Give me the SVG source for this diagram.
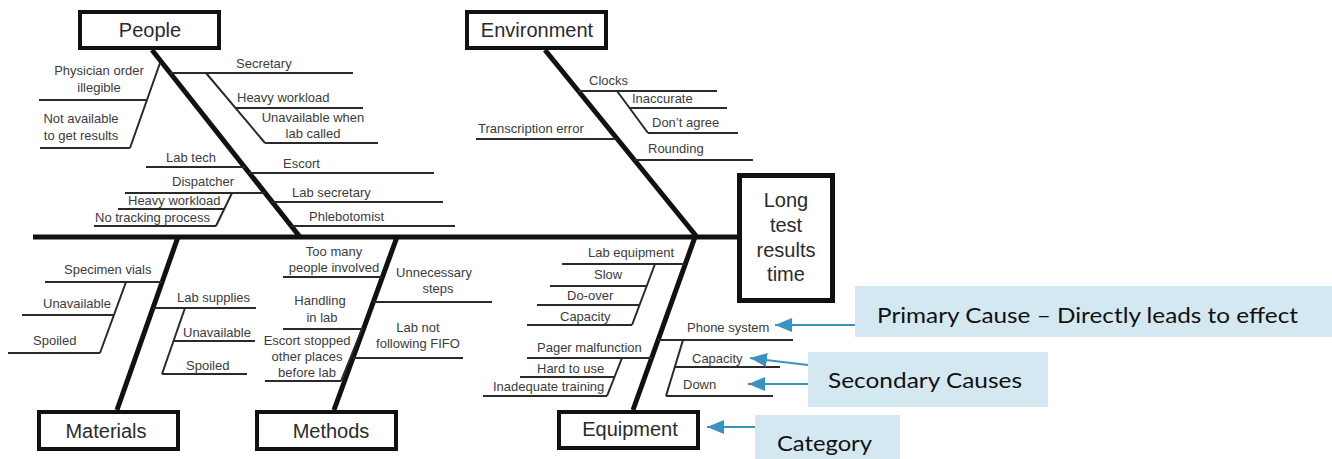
<svg xmlns="http://www.w3.org/2000/svg" width="1332" height="459" viewBox="0 0 1332 459">
  <defs>
    <style>
      .bone { stroke: #111; stroke-width: 5; fill: none; stroke-linecap: butt; }
      .rib { stroke: #2a2a2a; stroke-width: 2; fill: none; }
      .box { fill: #fff; stroke: #111; stroke-width: 4; }
      .effect { fill: #fff; stroke: #111; stroke-width: 5; }
      .title { font-family: "Liberation Sans", Arial, sans-serif; font-size: 20px; fill: #2b2b2b; text-anchor: middle; }
      .cause { font-family: "Liberation Sans", Arial, sans-serif; font-size: 13px; fill: #3c3c3c; }
      .mid { text-anchor: middle; }
      .note { fill: #d4e8f1; }
      .note-text { font-family: Lato, "Open Sans", sans-serif; font-size: 22px; fill: #111; }
      .pointer { stroke: #3a93be; stroke-width: 2; fill: none; marker-end: url(#tip); }
    </style>
    <marker id="tip" viewBox="0 0 17 14" refX="17" refY="7" markerWidth="17" markerHeight="14" markerUnits="userSpaceOnUse" orient="auto">
      <path d="M0,0 L17,7 L0,14 Z" fill="#3a93be"/>
    </marker>
  </defs>
  <rect width="1332" height="459" fill="#fff"/>

  <!-- fishbone skeleton: spine, category bones and cause branches -->
  <g id="connectors">
    <path class="bone" d="M33,237 H737"/>
    <path class="bone" d="M152,50 L300,237"/>
    <path class="bone" d="M545,50 L697,237"/>
    <path class="bone" d="M178,237 L117,410"/>
    <path class="bone" d="M397,237 L334,410"/>
    <path class="bone" d="M695,237 L633,410"/>

    <!-- People -->
    <path class="rib" d="M39,100 H146"/>
    <path class="rib" d="M40,148 H130"/>
    <path class="rib" d="M160,63 L130,148"/>
    <path class="rib" d="M170,73 H353"/>
    <path class="rib" d="M206,73 L265,143"/>
    <path class="rib" d="M235,108 H363"/>
    <path class="rib" d="M265,143 H378"/>
    <path class="rib" d="M146,167 H245"/>
    <path class="rib" d="M249,173 H434"/>
    <path class="rib" d="M125,193 H265"/>
    <path class="rib" d="M232,193 L216,226"/>
    <path class="rib" d="M118,209 H224"/>
    <path class="rib" d="M94,226 H216"/>
    <path class="rib" d="M271,202 H443"/>
    <path class="rib" d="M291,226 H455"/>

    <!-- Environment -->
    <path class="rib" d="M578,91 H717"/>
    <path class="rib" d="M617,91 L648,133"/>
    <path class="rib" d="M629,108 H727"/>
    <path class="rib" d="M648,133 H738"/>
    <path class="rib" d="M476,139 H617"/>
    <path class="rib" d="M634,160 H753"/>

    <!-- Materials -->
    <path class="rib" d="M45,282 H162"/>
    <path class="rib" d="M126,282 L100,353"/>
    <path class="rib" d="M22,315 H114"/>
    <path class="rib" d="M8,353 H100"/>
    <path class="rib" d="M153,308 H256"/>
    <path class="rib" d="M185,308 L162,374"/>
    <path class="rib" d="M173,341 H255"/>
    <path class="rib" d="M162,374 H247"/>

    <!-- Methods -->
    <path class="rib" d="M283,277 H382"/>
    <path class="rib" d="M283,329 H363"/>
    <path class="rib" d="M362,329 L341,381"/>
    <path class="rib" d="M265,381 H341"/>
    <path class="rib" d="M373,302 H492"/>
    <path class="rib" d="M353,358 H463"/>

    <!-- Equipment -->
    <path class="rib" d="M562,264 H685"/>
    <path class="rib" d="M655,264 L632,325"/>
    <path class="rib" d="M550,286 H647"/>
    <path class="rib" d="M537,305 H640"/>
    <path class="rib" d="M527,325 H632"/>
    <path class="rib" d="M527,358 H652"/>
    <path class="rib" d="M622,358 L607,396"/>
    <path class="rib" d="M520,377 H615"/>
    <path class="rib" d="M483,396 H607"/>
    <path class="rib" d="M658,340 H793"/>
    <path class="rib" d="M683,340 L666,396"/>
    <path class="rib" d="M675,367 H780"/>
    <path class="rib" d="M666,396 H773"/>

    <!-- callout pointers -->
    <path class="pointer" d="M855,325 H775"/>
    <path class="pointer" d="M808,365 L750,358"/>
    <path class="pointer" d="M808,384 H748"/>
    <path class="pointer" d="M755,427 H707"/>
  </g>

  <!-- effect -->
  <g id="effect">
    <rect class="effect" x="739.5" y="175.5" width="93" height="125"/>
    <text class="title" x="786" y="207">Long</text>
    <text class="title" x="786" y="232">test</text>
    <text class="title" x="786" y="257">results</text>
    <text class="title" x="786" y="281">time</text>
  </g>

  <!-- categories -->
  <g id="people">
    <rect class="box" x="80" y="12" width="139" height="36"/>
    <text class="title" x="150" y="37">People</text>
    <text class="cause mid" x="99" y="75">Physician order</text>
    <text class="cause mid" x="99" y="92">illegible</text>
    <text class="cause mid" x="81" y="123">Not available</text>
    <text class="cause mid" x="81" y="140">to get results</text>
    <text class="cause" x="236" y="68">Secretary</text>
    <text class="cause" x="237" y="102">Heavy workload</text>
    <text class="cause mid" x="313" y="122">Unavailable when</text>
    <text class="cause mid" x="313" y="138">lab called</text>
    <text class="cause" x="166" y="162">Lab tech</text>
    <text class="cause" x="283" y="168">Escort</text>
    <text class="cause" x="172" y="186">Dispatcher</text>
    <text class="cause" x="128" y="205">Heavy workload</text>
    <text class="cause" x="95" y="222">No tracking process</text>
    <text class="cause" x="292" y="197">Lab secretary</text>
    <text class="cause" x="309" y="221">Phlebotomist</text>
  </g>

  <g id="environment">
    <rect class="box" x="467" y="12" width="139" height="36"/>
    <text class="title" x="537" y="37">Environment</text>
    <text class="cause" x="589" y="85">Clocks</text>
    <text class="cause" x="632" y="103">Inaccurate</text>
    <text class="cause" x="652" y="127">Don’t agree</text>
    <text class="cause" x="478" y="133">Transcription error</text>
    <text class="cause" x="648" y="153">Rounding</text>
  </g>

  <g id="materials">
    <rect class="box" x="39" y="412" width="139" height="37"/>
    <text class="title" x="106" y="438">Materials</text>
    <text class="cause" x="64" y="274">Specimen vials</text>
    <text class="cause" x="43" y="308">Unavailable</text>
    <text class="cause" x="33" y="345">Spoiled</text>
    <text class="cause" x="177" y="302">Lab supplies</text>
    <text class="cause" x="183" y="337">Unavailable</text>
    <text class="cause" x="186" y="370">Spoiled</text>
  </g>

  <g id="methods">
    <rect class="box" x="257" y="412" width="139" height="37"/>
    <text class="title" x="331" y="438">Methods</text>
    <text class="cause mid" x="334" y="256">Too many</text>
    <text class="cause mid" x="334" y="272">people involved</text>
    <text class="cause mid" x="320" y="305">Handling</text>
    <text class="cause mid" x="322" y="322">in lab</text>
    <text class="cause mid" x="307" y="345">Escort stopped</text>
    <text class="cause mid" x="307" y="361">other places</text>
    <text class="cause mid" x="307" y="377">before lab</text>
    <text class="cause mid" x="434" y="277">Unnecessary</text>
    <text class="cause mid" x="438" y="293">steps</text>
    <text class="cause mid" x="418" y="332">Lab not</text>
    <text class="cause mid" x="418" y="348">following FIFO</text>
  </g>

  <g id="equipment">
    <rect class="box" x="559" y="412" width="139" height="36"/>
    <text class="title" x="630" y="436">Equipment</text>
    <text class="cause" x="588" y="257">Lab equipment</text>
    <text class="cause" x="594" y="279">Slow</text>
    <text class="cause" x="567" y="300">Do-over</text>
    <text class="cause" x="560" y="321">Capacity</text>
    <text class="cause" x="537" y="352">Pager malfunction</text>
    <text class="cause" x="537" y="373">Hard to use</text>
    <text class="cause" x="493" y="391">Inadequate training</text>
    <text class="cause" x="687" y="332">Phone system</text>
    <text class="cause" x="692" y="363">Capacity</text>
    <text class="cause" x="683" y="389">Down</text>
  </g>

  <!-- explanatory callouts -->
  <g id="note-primary">
    <rect class="note" x="855" y="286" width="477" height="51"/>
    <text class="note-text" x="877" y="323" textLength="421" lengthAdjust="spacingAndGlyphs">Primary Cause – Directly leads to effect</text>
  </g>
  <g id="note-secondary">
    <rect class="note" x="808" y="352" width="240" height="55"/>
    <text class="note-text" x="828" y="388" textLength="194" lengthAdjust="spacingAndGlyphs">Secondary Causes</text>
  </g>
  <g id="note-category">
    <rect class="note" x="755" y="415" width="145" height="44"/>
    <text class="note-text" x="777" y="451" textLength="95" lengthAdjust="spacingAndGlyphs">Category</text>
  </g>
</svg>
